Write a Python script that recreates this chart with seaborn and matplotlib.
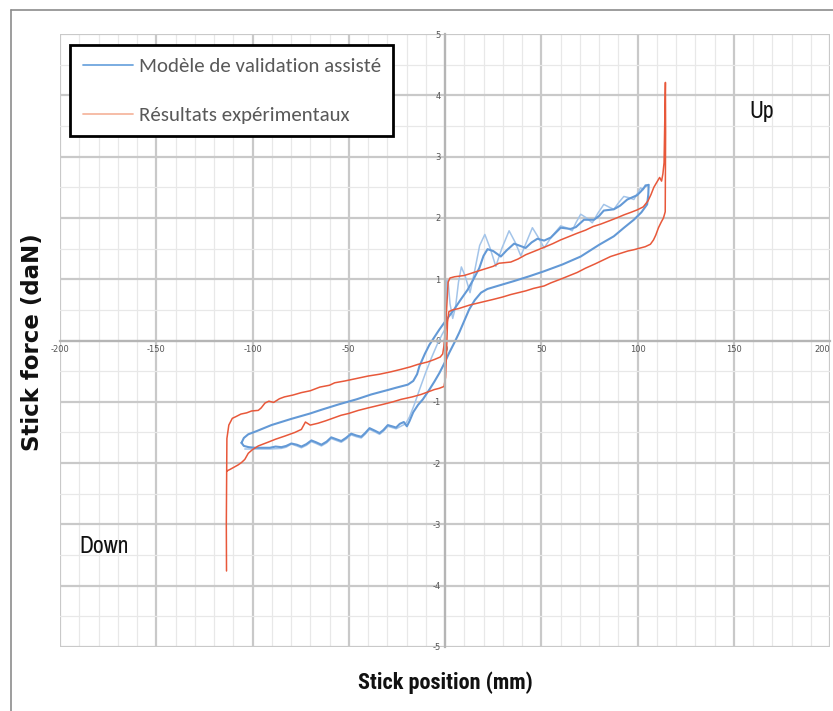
import numpy as np
import pandas as pd
import matplotlib
matplotlib.use("Agg")
import matplotlib.pyplot as plt
from matplotlib import font_manager
from matplotlib.lines import Line2D
from matplotlib.ticker import MultipleLocator
import seaborn as sns

# === Data (stick position mm, stick force daN) ===
exp_x = [-113.5, -113.6, -113.4, -113.3, -112.3, -110.5, -108.5, -106, -103, -100.5, -97, -95.5,
         -93.5, -91.5, -89, -86, -83.4, -79, -74.6, -70, -65, -60, -57.3, -52, -46, -40, -34, -28,
         -22.8, -18, -14.1, -9, -5.5, -2.5, -1.2, -0.6, 0.3, 1.0, 1.6, 2.6, 5, 9.9, 13, 16.9, 21,
         25, 28, 34.2, 38, 42, 46, 51.5, 56, 60, 64, 68.7, 73, 77, 81, 86, 90, 93, 96.5, 99.8, 103,
         105.5, 107, 108.5, 110, 111.5, 112.5, 113.2, 113.8, 114.2, 114.5, 114.6, 114.4, 113.5,
         112.3, 110.9, 109.5, 108.3, 106.7, 104, 101.6, 98, 95, 90, 86, 82, 78, 73, 68.7, 64, 60,
         55, 51.5, 46, 42, 38, 34.2, 30, 25, 21, 16.9, 13, 10, 7, 4, 2, 1.3, 0.8, 0.3, -0.5, -3,
         -5.5, -9, -12.4, -17, -22.8, -27, -32, -36, -40, -45, -50, -54, -57.5, -62, -66, -70,
         -72.5, -74.6, -78, -83.3, -88, -92, -97, -100, -102.2, -104, -105.7, -107.5, -109.2,
         -111.5, -113.4]
exp_y = [-3.76, -3.0, -2.13, -1.6, -1.38, -1.27, -1.24, -1.20, -1.18, -1.15, -1.14, -1.10,
         -1.02, -0.99, -1.01, -0.95, -0.92, -0.89, -0.85, -0.82, -0.76, -0.73, -0.69, -0.66, -0.62,
         -0.58, -0.55, -0.51, -0.47, -0.43, -0.39, -0.35, -0.31, -0.27, -0.22, -0.1, 0.2, 0.6, 0.95,
         1.02, 1.04, 1.06, 1.09, 1.13, 1.17, 1.21, 1.26, 1.28, 1.33, 1.40, 1.45, 1.52, 1.58, 1.64,
         1.69, 1.75, 1.80, 1.86, 1.90, 1.96, 2.01, 2.05, 2.09, 2.13, 2.18, 2.28, 2.38, 2.50, 2.58,
         2.66, 2.60, 2.72, 2.9, 3.6, 4.21, 3.4, 2.1, 2.0, 1.93, 1.84, 1.72, 1.64, 1.57, 1.53, 1.51,
         1.48, 1.46, 1.41, 1.37, 1.31, 1.25, 1.18, 1.11, 1.05, 1.00, 0.94, 0.89, 0.85, 0.81, 0.78,
         0.75, 0.71, 0.67, 0.64, 0.61, 0.58, 0.55, 0.52, 0.50, 0.47, 0.3, -0.2, -0.6, -0.75, -0.78,
         -0.80, -0.84, -0.88, -0.92, -0.96, -1.00, -1.04, -1.07, -1.10, -1.14, -1.19, -1.22, -1.26,
         -1.31, -1.35, -1.38, -1.33, -1.45, -1.50, -1.56, -1.61, -1.66, -1.72, -1.78, -1.84, -1.94,
         -1.99, -2.03, -2.06, -2.10, -2.13]

model_x = [-105.7, -104.5, -102.2, -98, -90.2, -80, -70, -64.2, -55, -46, -38.3, -30, -25.4,
           -19.3, -16.5, -14.5, -13.3, -10.5, -8.1, -5, -2.9, 1, 4.8, 8, 11.8, 14.8, 17.8, 20,
           22.1, 25, 29, 32, 35.9, 38.5, 41.9, 45, 48, 51.5, 55, 60.1, 65.3, 68, 72.2, 77.4, 80,
           82.5, 87.7, 91, 94.7, 99.8, 102, 104.1, 105.8, 105.6, 105, 102, 98.1, 93, 87.7, 80,
           70.5, 61, 51.5, 44, 35.9, 27.3, 22, 18.7, 15.5, 12.6, 10, 7.4, 4.8, 2.2, -0.3, -2.9,
           -5.5, -8.1, -11.5, -14, -16.5, -18.5, -19.8, -21.4, -23.5, -25.4, -27.5, -29.7, -32,
           -34, -36.5, -39.2, -41.5, -43.5, -46, -48.7, -51.5, -53.9, -56.5, -59.1, -61.5, -64.2,
           -67, -69.4, -72, -74.6, -77, -79.8, -82.5, -85, -88, -91, -95, -98.8, -102, -104.5,
           -105.7]
model_y = [-1.67, -1.59, -1.53, -1.48, -1.38, -1.28, -1.19, -1.13, -1.04, -0.96, -0.88, -0.81,
           -0.77, -0.72, -0.66, -0.55, -0.42, -0.22, -0.07, 0.08, 0.18, 0.35, 0.51, 0.66, 0.83,
           1.0, 1.18, 1.38, 1.49, 1.46, 1.37, 1.47, 1.58, 1.55, 1.51, 1.60, 1.66, 1.63, 1.68, 1.84,
           1.82, 1.85, 1.97, 1.97, 2.03, 2.12, 2.14, 2.20, 2.30, 2.37, 2.44, 2.52, 2.54, 2.38, 2.22,
           2.09, 1.97, 1.84, 1.70, 1.56, 1.37, 1.24, 1.13, 1.05, 0.97, 0.89, 0.84, 0.78, 0.66, 0.51,
           0.32, 0.13, -0.04, -0.2, -0.37, -0.53, -0.67, -0.80, -0.96, -1.05, -1.17, -1.32, -1.40,
           -1.33, -1.36, -1.42, -1.40, -1.38, -1.46, -1.51, -1.47, -1.43, -1.51, -1.57, -1.55, -1.52,
           -1.59, -1.64, -1.61, -1.58, -1.65, -1.70, -1.66, -1.63, -1.69, -1.73, -1.70, -1.68, -1.72,
           -1.74, -1.73, -1.75, -1.75, -1.75, -1.74, -1.72, -1.67]

thin_x = [-104, -98.8, -91, -85, -82.5, -79.8, -77, -74.6, -72, -69.4, -67, -64.2, -61.5, -59.1,
          -56.5, -53.9, -51.5, -48.7, -46, -43.5, -41.5, -39.2, -36.5, -34, -32, -29.7, -27.5,
          -25.4, -23, -20.5, -18.5, -16, -13, -10, -7, -4, -1.5, 0.3, 0.6, 0.9, 1.6, 2.6, 4, 5.5,
          7, 8.5, 10.5, 13, 15.5, 18, 20.7, 23.5, 26.4, 29.5, 33.3, 36.5, 39.4, 42.5, 45.4, 48.5,
          51.5, 55.5, 60.1, 63, 66.1, 68, 70.5, 73.5, 76.5, 79.5, 82.5, 85, 87.7, 90.5, 92.9, 95.5,
          98.1, 100, 101.6, 103, 104.1, 105.8]
thin_y = [-1.77, -1.77, -1.77, -1.76, -1.74, -1.69, -1.72, -1.75, -1.71, -1.65, -1.68, -1.72,
          -1.67, -1.60, -1.63, -1.66, -1.61, -1.54, -1.57, -1.59, -1.53, -1.45, -1.49, -1.53, -1.48,
          -1.40, -1.42, -1.44, -1.40, -1.36, -1.25, -1.05, -0.78, -0.52, -0.28, -0.06, 0.1, 0.2,
          0.6, 0.98, 0.98, 0.6, 0.36, 0.55, 0.95, 1.2, 1.05, 0.78, 1.15, 1.55, 1.73, 1.5, 1.21, 1.5,
          1.79, 1.6, 1.38, 1.62, 1.84, 1.68, 1.51, 1.7, 1.87, 1.84, 1.79, 1.92, 2.06, 2.0, 1.92,
          2.08, 2.22, 2.18, 2.14, 2.26, 2.35, 2.33, 2.30, 2.40, 2.49, 2.46, 2.54, 2.54]

x_ticks = [-200, -150, -100, -50, 0, 50, 100, 150, 200]
y_ticks = [-5, -4, -3, -2, -1, 0, 1, 2, 3, 4, 5]
legend_labels = ["Modèle de validation assisté", "Résultats expérimentaux"]

# === Fonts: pick what is installed ===
bold_ok = {f.name for f in font_manager.fontManager.ttflist
           if isinstance(f.weight, int) and f.weight >= 700 or f.weight == "bold"}
installed = {f.name for f in font_manager.fontManager.ttflist}


def first_font(candidates, pool):
    for name in candidates:
        if name in pool:
            return name
    return "DejaVu Sans"


narrow_list = ["Liberation Sans Narrow", "Archivo Narrow", "Roboto Condensed", "PT Sans Narrow",
               "Pragati Narrow", "Encode Sans Condensed", "Fira Sans Condensed",
               "Liberation Sans"]
narrow = first_font(narrow_list, installed)
narrow_bold = first_font(narrow_list, bold_ok)
calibri = first_font(["Carlito", "Lato", "Open Sans"], installed)

# === Style ===
sns.set_style("white")
plt.rcParams["font.family"] = ["DejaVu Sans"]

fig = plt.figure(figsize=(8.33, 7.11), dpi=100)
ax = fig.add_axes([60 / 833, 64 / 711, 770 / 833, 613 / 711])

# outer frame of the picture (left and top edges visible)
fig.add_artist(Line2D([11 / 833, 11 / 833], [0, 1 - 10 / 711], transform=fig.transFigure,
                      color="#8c8c8c", lw=1.2))
fig.add_artist(Line2D([11 / 833, 1], [1 - 10 / 711, 1 - 10 / 711], transform=fig.transFigure,
                      color="#8c8c8c", lw=1.2))

red = "#e8583a"
blue = "#6399d6"
blue_light = "#a3c4e9"

sns.lineplot(x=thin_x, y=thin_y, sort=False, estimator=None, color=blue_light, lw=1.1, ax=ax)
sns.lineplot(x=model_x, y=model_y, sort=False, estimator=None, color=blue, lw=1.5, ax=ax)
sns.lineplot(x=exp_x, y=exp_y, sort=False, estimator=None, color=red, lw=1.1, ax=ax)

ax.set_xlim(-200, 200)
ax.set_ylim(-5, 5)
ax.xaxis.set_minor_locator(MultipleLocator(10))
ax.yaxis.set_minor_locator(MultipleLocator(0.5))
ax.set_xticks(x_ticks)
ax.set_yticks(y_ticks)
ax.set_xticklabels([str(v) for v in x_ticks])
ax.set_yticklabels([str(v) for v in y_ticks])

ax.grid(which="major", color="#c9c9c9", lw=1.6)
ax.grid(which="minor", color="#e8e8e8", lw=0.9)
ax.set_axisbelow(True)

for side in ["top", "right"]:
    ax.spines[side].set_visible(False)
ax.spines["left"].set_position(("data", 0))
ax.spines["bottom"].set_position(("data", 0))
for side in ["left", "bottom"]:
    ax.spines[side].set_color("#b5b5b5")
    ax.spines[side].set_linewidth(1.6)
ax.tick_params(which="both", length=0, labelsize=6, labelcolor="#555555", pad=3)
ax.get_xticklabels()[-1].set_horizontalalignment("right")

# axis titles
fig.text(33 / 833, 1 - 342 / 711, "Stick force (daN)", rotation=90, ha="center", va="center",
         fontsize=16.5, fontweight="bold", color="#111111")
fig.text(445 / 833, 1 - 683 / 711, "Stick position (mm)", ha="center", va="center",
         fontsize=16, fontweight="bold", color="#111111", family=[narrow_bold, "DejaVu Sans"])

ax.text(164.5, 3.74, "Up", fontsize=17, color="#111111", ha="center", va="center",
        family=[narrow, "DejaVu Sans"])
ax.text(-177, -3.36, "Down", fontsize=17, color="#111111", ha="center", va="center",
        family=[narrow, "DejaVu Sans"])

handles = [Line2D([], [], color="#6fa6de", lw=1.3),
           Line2D([], [], color="#f6b8a0", lw=1.3)]
leg = ax.legend(handles, legend_labels, loc="upper left",
                bbox_to_anchor=(70 / 833, 1 - 45 / 711), bbox_transform=fig.transFigure,
                frameon=True, fancybox=False, handlelength=2.4, handletextpad=0.3,
                labelspacing=1.5, borderpad=0.6, borderaxespad=0,
                prop={"family": [calibri, "DejaVu Sans"], "size": 15})
leg.get_frame().set_edgecolor("black")
leg.get_frame().set_linewidth(2)
leg.get_frame().set_alpha(1)
for t in leg.get_texts():
    t.set_color("#595959")

fig.savefig("out.png", dpi=100)
